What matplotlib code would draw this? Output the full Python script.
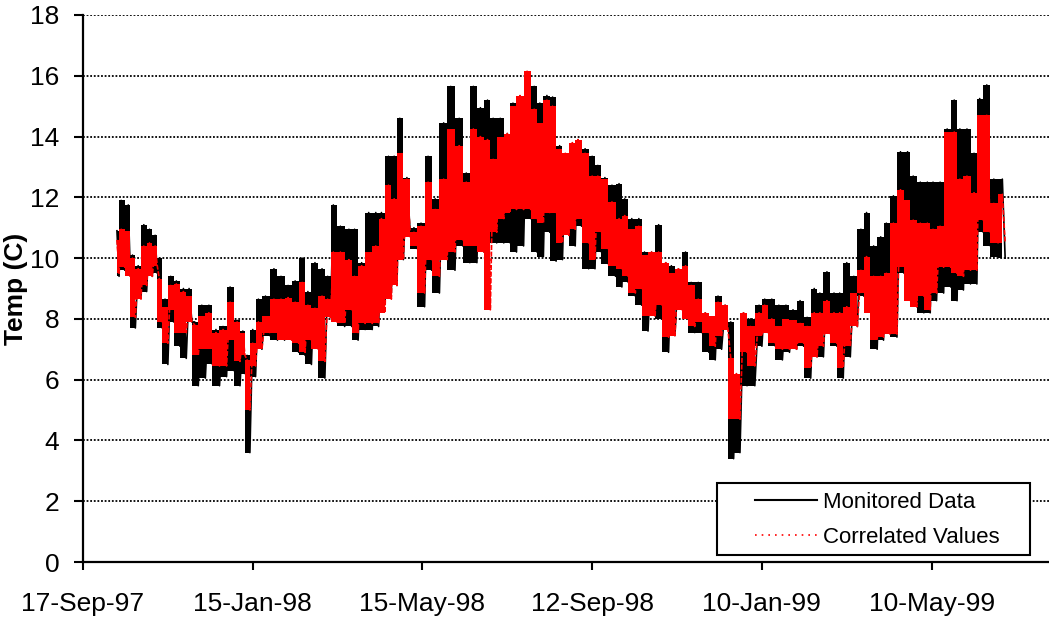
import numpy as np
import matplotlib
matplotlib.use("Agg")
import matplotlib.pyplot as plt
import matplotlib.dates as mdates
from matplotlib.lines import Line2D
from matplotlib.patches import Rectangle
import datetime as dt

plt.rcParams['font.family'] = ['Liberation Sans', 'DejaVu Sans']

# ---- data (days after 17-Sep-1997; per-period high / low readings) ----
start_date = dt.date(1997, 9, 17)
days = [24, 27, 32, 35, 39, 43, 47, 51, 54, 58, 62, 66, 71, 75, 79, 84, 89, 94, 99, 104,
        109, 113, 116, 120, 124, 129, 135, 140, 145, 150, 155, 159, 164, 169, 173, 177,
        182, 188, 192, 197, 202, 207, 211, 216, 220, 224, 229, 234, 239, 244, 249, 255,
        260, 266, 271, 276, 281, 286, 290, 295, 300, 304, 309, 314, 319, 323, 328, 332,
        337, 341, 346, 350, 355, 360, 364, 369, 374, 379, 383, 388, 393, 397, 402, 407,
        412, 416, 421, 426, 430, 435, 440, 445, 449, 454, 458, 462, 467, 472, 478, 482,
        487, 492, 497,
        502, 507, 512, 517, 521, 526, 531, 535, 540, 545, 550, 554, 559, 564, 568, 573,
        578, 583, 587, 592, 597, 601, 606, 611, 616, 620, 625, 630, 634, 639, 644, 650]

monitored_high = [10.9, 11.9, 11.75, 10.1, 9.75, 11.1, 10.95, 10.75, 10.0, 8.65, 9.4, 9.25, 9.0, 9.0, 7.9, 8.45, 8.45, 7.65, 7.75, 9.05,
                  7.95, 7.6, 6.8, 7.65, 8.65, 8.75, 9.65, 9.4, 9.1, 9.25, 10.0, 8.9, 9.85, 9.65, 9.4, 11.75,
                  11.05, 10.95, 10.95, 9.85, 11.5, 11.5, 11.5, 13.35, 13.35, 14.6, 12.65, 11.0, 11.15, 13.35, 11.95, 14.45,
                  15.65, 14.6, 12.8, 15.65, 14.95, 15.2, 14.6, 14.6, 14.1, 15.1, 15.1, 15.3, 15.65, 15.1, 15.35, 15.3,
                  13.7, 13.35, 13.75, 13.9, 13.6, 13.35, 13.05, 12.65, 12.4, 12.45, 11.95, 11.3, 11.3, 10.2, 10.2, 11.1,
                  9.85, 9.75, 9.65, 10.2, 9.2, 9.2, 8.2, 8.0, 8.75, 8.45, 7.9, 6.0, 8.2, 8.0, 8.45, 8.65,
                  8.65, 8.45, 8.45,
                  8.3, 8.6, 8.05, 9.0, 8.85, 9.55, 8.85, 8.85, 9.85, 9.4, 10.95, 11.5, 10.4, 10.7, 11.15, 12.05,
                  13.5, 13.5, 12.7, 12.5, 12.5, 12.5, 12.5, 14.25, 15.2, 14.25, 14.25, 13.45, 15.25, 15.7, 12.6, 12.6]

monitored_low = [9.4, 9.6, 9.4, 7.7, 8.75, 8.9, 9.4, 9.5, 7.7, 6.5, 7.9, 7.1, 6.7, 7.9, 5.8, 6.05, 6.5, 5.8, 6.1, 6.3,
                 5.8, 6.2, 3.6, 6.1, 7.0, 7.45, 7.3, 7.3, 7.75, 6.9, 6.8, 6.5, 7.0, 6.05, 8.05, 8.6,
                 7.75, 7.75, 7.3, 7.65, 7.65, 7.75, 8.5, 8.85, 9.1, 9.95, 10.7, 10.3, 8.4, 9.6, 8.85, 10.05,
                 9.6, 10.4, 9.85, 9.85, 10.2, 10.85, 10.5, 10.5, 10.5, 10.2, 10.4, 11.3, 10.2, 10.05, 10.85, 9.9,
                 9.95, 10.75, 10.4, 11.05, 9.65, 9.65, 10.2, 9.8, 9.4, 9.05, 9.2, 8.75, 8.45, 7.6, 8.1, 8.0,
                 6.9, 7.45, 8.45, 8.0, 7.55, 7.55, 6.9, 6.65, 7.0, 7.65, 3.4, 3.6, 5.8, 5.8, 7.1, 7.55,
                 7.1, 6.65, 6.9,
                 7.0, 7.1, 6.05, 6.75, 6.75, 7.65, 7.1, 6.05, 6.75, 7.75, 8.75, 8.4, 7.0, 7.3, 7.75, 7.4,
                 9.5, 8.75, 8.4, 8.2, 8.2, 8.6, 8.85, 9.05, 8.6, 8.95, 9.15, 9.15, 10.85, 10.4, 10.05, 10.0]

correlated_high = [10.6, 10.95, 10.9, 10.0, 9.65, 10.4, 10.5, 10.4, 9.3, 8.4, 9.1, 9.15, 8.9, 8.75, 7.8, 8.1, 8.2, 7.55, 7.65, 8.55,
                   7.9, 7.55, 6.65, 7.2, 7.9, 8.1, 8.65, 8.65, 8.7, 8.55, 9.2, 8.45, 8.35, 8.75, 8.65, 10.2,
                   10.2, 9.95, 9.4, 9.75, 10.2, 10.4, 11.3, 12.4, 11.95, 13.45, 12.6, 10.85, 11.05, 12.5, 11.6, 12.6,
                   14.25, 13.7, 12.5, 14.25, 14.0, 13.9, 13.25, 14.0, 14.1, 15.0, 15.35, 16.15, 14.9, 14.45, 15.2, 15.0,
                   13.6, 13.45, 13.8, 13.9, 13.45, 12.7, 12.7, 12.6, 11.85, 11.3, 11.4, 10.95, 11.05, 10.1, 10.2, 10.2,
                   9.85, 9.5, 9.65, 9.75, 9.1, 8.65, 8.2, 8.1, 8.55, 8.45, 6.7, 6.2, 8.2, 7.75, 8.2, 8.45,
                   8.0, 7.75, 8.0,
                   7.95, 7.85, 7.75, 8.2, 8.2, 8.6, 8.2, 8.2, 8.4, 8.85, 9.6, 10.05, 9.4, 9.4, 9.5, 11.15,
                   12.25, 11.9, 11.25, 11.15, 11.15, 10.95, 11.05, 14.15, 14.15, 12.6, 12.7, 12.15, 14.7, 14.7, 11.8, 12.1]

correlated_low = [9.5, 9.7, 9.4, 8.05, 8.65, 9.1, 9.4, 9.75, 7.9, 7.2, 8.3, 7.55, 7.55, 7.9, 6.8, 7.0, 7.0, 6.45, 6.45, 7.3,
                  6.6, 6.8, 5.0, 6.45, 7.0, 7.55, 7.55, 7.3, 7.3, 7.2, 6.9, 7.3, 7.0, 6.6, 8.05, 7.9,
                  7.85, 8.3, 7.55, 7.85, 7.85, 7.85, 8.2, 8.65, 9.1, 9.95, 10.7, 10.4, 8.85, 9.95, 9.4, 9.95,
                  10.2, 10.6, 10.4, 10.4, 10.2, 8.3, 10.85, 11.3, 11.5, 11.6, 11.6, 11.6, 11.3, 11.15, 11.5, 11.5,
                  10.5, 10.75, 10.95, 11.3, 10.5, 9.95, 10.85, 10.3, 9.75, 9.65, 9.4, 8.85, 9.0, 8.1, 8.1, 8.45,
                  7.4, 7.45, 8.3, 8.0, 7.75, 7.9, 7.55, 7.1, 7.45, 7.65, 4.7, 4.7, 6.9, 6.45, 7.45, 7.55,
                  7.2, 7.0, 7.0,
                  7.0, 7.2, 6.4, 6.75, 7.1, 7.5, 7.2, 6.4, 7.1, 7.75, 8.85, 8.2, 7.3, 7.4, 7.5, 7.5,
                  9.7, 8.6, 8.4, 8.75, 8.3, 8.85, 9.7, 9.7, 9.5, 9.4, 9.6, 9.6, 11.25, 10.85, 10.5, 10.5]

y_ticks = [0, 2, 4, 6, 8, 10, 12, 14, 16, 18]
x_tick_step_days = 120
series_labels = ["Monitored Data", "Correlated Values"]

# ---- build traces ----
base = mdates.date2num(start_date)
d = np.asarray(days, dtype=float)
d_low = np.append((d[:-1] + d[1:]) / 2.0, d[-1] + 2.0)
x_hi = base + d
x_lo = base + d_low
x_seq = np.empty(2 * len(d))
x_seq[0::2] = x_hi
x_seq[1::2] = x_lo

def interleave(hi, lo):
    out = np.empty(2 * len(hi))
    out[0::2] = hi
    out[1::2] = lo
    return out

mon_seq = interleave(monitored_high, monitored_low)
cor_seq = interleave(correlated_high, correlated_low)

# ---- figure ----
fig = plt.figure(figsize=(10.49, 6.22), dpi=100)
ax = fig.add_axes([83 / 1049, 1 - 562 / 622, 966 / 1049, 547 / 622])

# monitored: range of readings per period (stepped) plus zig-zag trace
ax.fill_between(x_hi, monitored_low, monitored_high, step='mid', color='black', lw=0, zorder=2)
ax.plot(x_seq, mon_seq, color='black', lw=1.2, zorder=3)
# correlated on top in red
ax.fill_between(x_hi, correlated_low, correlated_high, step='mid', color='#ff0000', lw=0, zorder=4)
ax.plot(x_seq, cor_seq, color='#ff0000', lw=1.2, linestyle=(0, (3, 1)), zorder=5)

ax.set_ylim(0, 18)
ax.set_yticks(y_ticks)
ax.set_xlim(base, base + 683)
ax.set_xticks([base + k * x_tick_step_days for k in range(6)])
ax.xaxis.set_major_formatter(mdates.DateFormatter('%d-%b-%y'))

ax.grid(axis='y', color='black', linestyle=(0, (1, 1)), linewidth=1.3, zorder=1)
ax.set_axisbelow(True)
for s in ['top', 'right']:
    ax.spines[s].set_visible(False)
for s in ['left', 'bottom']:
    ax.spines[s].set_linewidth(1.6)
    ax.spines[s].set_zorder(6)

ax.tick_params(axis='y', direction='out', length=6.5, width=1.5, labelsize=19, pad=10.5)
ax.tick_params(axis='x', direction='out', length=5.5, width=1.5, labelsize=19, pad=16)

ax.set_ylabel('Temp (C)', fontsize=19, fontweight='bold')
ax.yaxis.set_label_coords(-0.057, 0.5)

# legend box
rect = Rectangle((0.6563, 0.0128), 0.324, 0.1316, transform=ax.transAxes,
                 facecolor='white', edgecolor='black', linewidth=1.5, zorder=7)
ax.add_patch(rect)
handles = [Line2D([0], [0], color='black', lw=1.5),
           Line2D([0], [0], color='#ff0000', lw=1.2, linestyle=(0, (1, 3)))]
leg = ax.legend(handles, series_labels, loc='center left', bbox_to_anchor=(0.6957, 0.0775),
                frameon=False, fontsize=16, borderpad=0, borderaxespad=0,
                handlelength=2.8, handletextpad=0.27, labelspacing=0.63)
leg.set_zorder(8)

fig.savefig('out.png', dpi=100)
